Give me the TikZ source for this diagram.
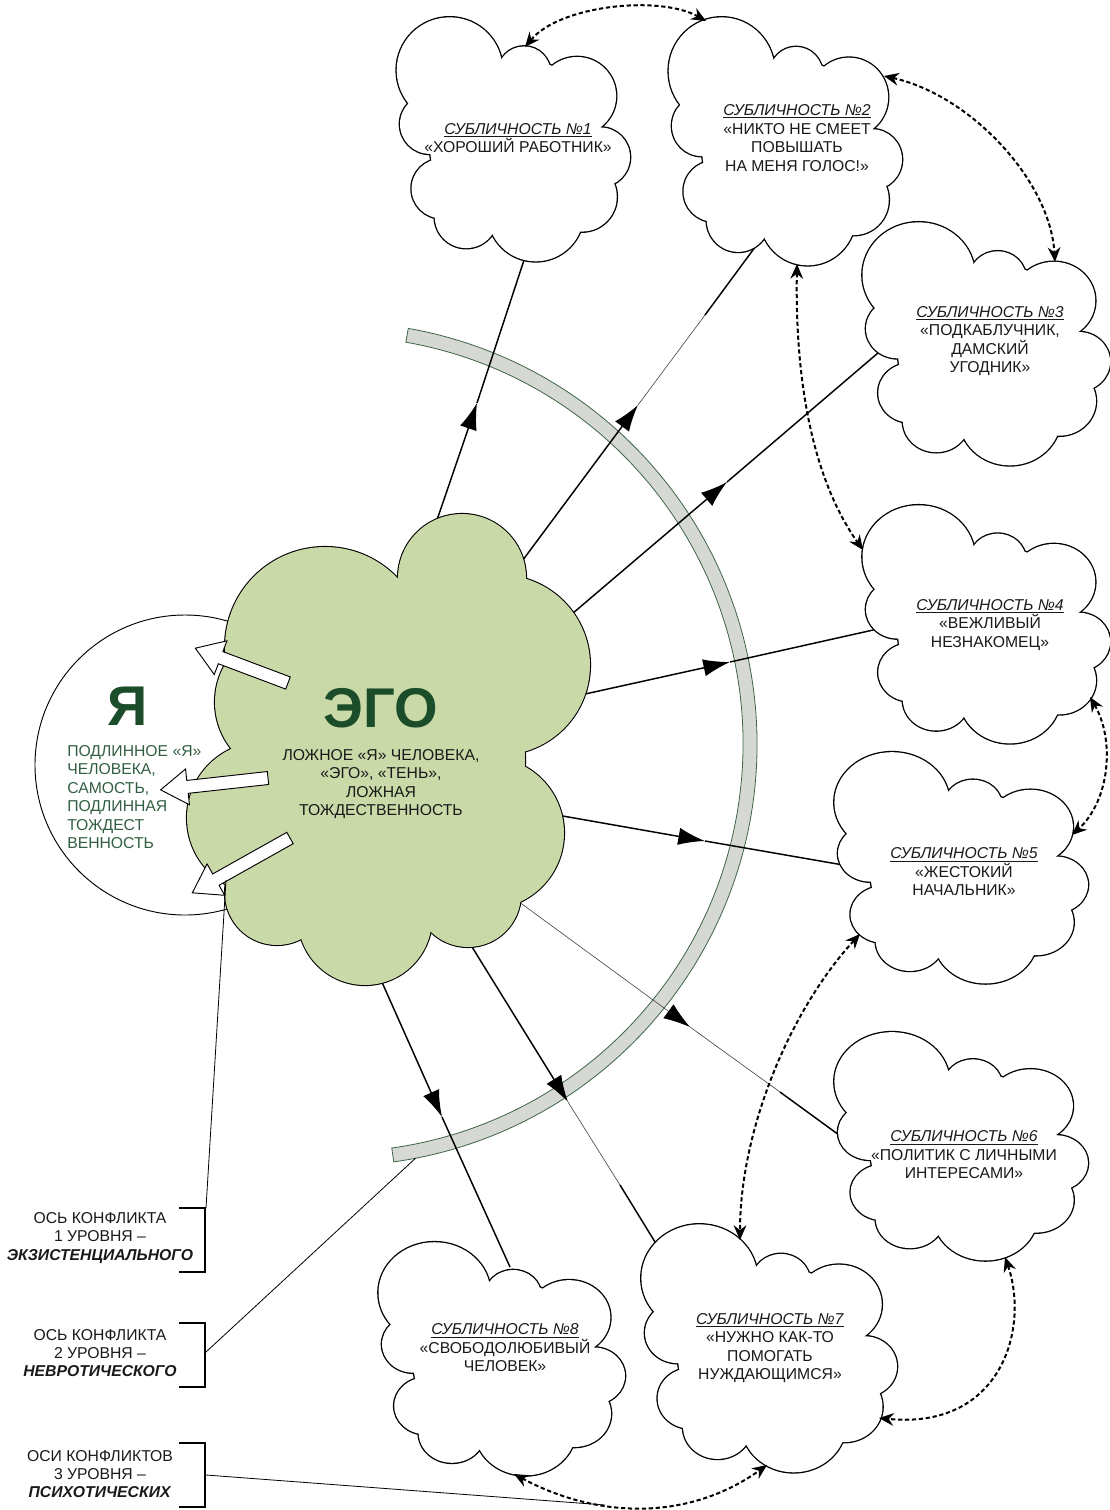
\documentclass[tikz,border=0pt]{standalone}
\usepackage{fontspec}
\setmainfont{Liberation Sans}
\usetikzlibrary{arrows.meta,calc}
\definecolor{egofill}{RGB}{202,217,168}
\definecolor{egodark}{RGB}{27,77,42}
\definecolor{yatext}{RGB}{50,95,65}
\definecolor{bandfill}{RGB}{214,217,211}
\definecolor{bandline}{RGB}{60,100,70}
\definecolor{txt}{RGB}{25,25,25}
\newcommand\cloudfig[5]{%
  \begin{scope}[shift={(#1,#2)},xscale=#3/695,yscale=#4/750]
    \foreach \ua/\ub/\ur in {150/167/160,375/175/80,535/245/118,605/430/90,550/550/105,410/600/145,200/610/95,125/525/90,90/330/90,350/390/260}
      \draw[line width=2pt] (\ua,\ub) circle[radius=\ur];
    \foreach \ua/\ub/\ur in {150/167/160,375/175/80,535/245/118,605/430/90,550/550/105,410/600/145,200/610/95,125/525/90,90/330/90,350/390/260}
      \fill[#5] (\ua,\ub) circle[radius=\ur];
  \end{scope}}
\newcommand\blockarr[4]{%
  \begin{scope}[shift={(#1,#2)},rotate=#3]
    \draw[barrow] (0,-6.5) -- (#4-27,-6.5) -- (#4-27,-18) -- (#4,0) -- (#4-27,18) -- (#4-27,6.5) -- (0,6.5) -- cycle;
  \end{scope}}
\tikzset{
  conn/.style={line width=1.1pt, black},
  thinconn/.style={line width=0.45pt, black!75},
  headarrow/.style={-{Latex[length=20pt,width=13pt,color=black]}},
  dasharrow/.style={line width=1.5pt, dash pattern=on 3.2pt off 2pt, {Stealth[length=11pt,width=9.5pt]}-{Stealth[length=11pt,width=9.5pt]}},
  ctext/.style={align=center, text=txt, font=\fontsize{11.8}{13.9}\selectfont, inner sep=0pt},
  labtext/.style={align=center, text=txt, font=\fontsize{11.8}{13.8}\selectfont, inner sep=0pt},
  bracket/.style={line width=0.9pt},
  leader/.style={line width=0.6pt},
  barrow/.style={draw=black, line width=0.7pt, fill=white, line join=miter},
}
\begin{document}
\begin{tikzpicture}[x=0.75pt,y=-0.75pt]
\useasboundingbox (0,0) rectangle (1110,1510);
% grey band (arc)
\coordinate (bc) at (335,744);
\filldraw[fill=bandfill, draw=bandline, line width=0.6pt]
  ($(bc)+(-80:408)$) arc[start angle=-80,end angle=82,radius=408]
  -- ($(bc)+(82:422)$) arc[start angle=82,end angle=-80,radius=422] -- cycle;
\coordinate (bandend) at ($(bc)+(79:422)$);

% connector coordinates
\coordinate (e1) at (425,555); \coordinate (t1) at (477,403); \coordinate (c1) at (527,251);
\coordinate (e2) at (514,572); \coordinate (t2) at (638,405); \coordinate (m2) at (705,315); \coordinate (c2) at (764,235);
\coordinate (e3) at (559,625); \coordinate (t3) at (727,482); \coordinate (c3) at (899,335);
\coordinate (e4) at (558,700); \coordinate (t4) at (730,662); \coordinate (c4) at (900,624);
\coordinate (e5) at (540,812); \coordinate (t5) at (705,841); \coordinate (c5) at (872,870);
\coordinate (e6) at (511,896); \coordinate (t6) at (690,1027); \coordinate (m6) at (780,1092); \coordinate (c6) at (872,1159);
\coordinate (e7) at (464,934); \coordinate (t7) at (568,1102); \coordinate (m7) at (620,1185); \coordinate (c7) at (671,1268);
\coordinate (e8) at (377,971); \coordinate (t8) at (442,1117); \coordinate (c8) at (510,1267);

\draw[conn,headarrow] (e1) -- (t1); \draw[conn] (t1) -- (c1);
\draw[conn,headarrow] (e2) -- (t2); \draw[thinconn] (t2) -- (m2); \draw[conn] (m2) -- (c2);
\draw[conn,headarrow] (e3) -- (t3); \draw[conn] (t3) -- (c3);
\draw[conn,headarrow] (e4) -- (t4); \draw[conn] (t4) -- (c4);
\draw[conn,headarrow] (e5) -- (t5); \draw[conn] (t5) -- (c5);
\draw[thinconn,headarrow] (e6) -- (t6); \draw[thinconn] (t6) -- (m6); \draw[conn] (m6) -- (c6);
\draw[conn,headarrow] (e7) -- (t7); \draw[thinconn] (t7) -- (m7); \draw[conn] (m7) -- (c7);
\draw[conn,headarrow] (e8) -- (t8); \draw[conn] (t8) -- (c8);

% sub-personality clouds
\cloudfig{400}{15}{230}{248}{white}
\cloudfig{672}{15}{230}{252}{white}
\cloudfig{866}{220}{244}{247}{white}
\cloudfig{866}{503}{244}{242}{white}
\cloudfig{838}{750}{250}{235}{white}
\cloudfig{838}{1030}{250}{232}{white}
\cloudfig{645}{1222}{252}{252}{white}
\cloudfig{382}{1240}{243}{237}{white}

% true self circle
\draw[line width=0.7pt, fill=white] (185,765) circle[radius=150];

% EGO cloud
\foreach \ua/\ub/\ur in {325/647/100,462/578/64,500/665/90,488/833/76,468/894/53,365/918/67,277/893/52,263/818/76,290/702/75,385/760/140}
  \draw[line width=1.6pt] (\ua,\ub) circle[radius=\ur];
\foreach \ua/\ub/\ur in {325/647/100,462/578/64,500/665/90,488/833/76,468/894/53,365/918/67,277/893/52,263/818/76,290/702/75,385/760/140}
  \fill[egofill] (\ua,\ub) circle[radius=\ur];

% texts
\node[text=egodark, font=\fontsize{42}{42}\selectfont\bfseries, inner sep=0pt] (egot) at (381,708) {ЭГО};
\node[ctext] (ego) at (381,784) {ЛОЖНОЕ «Я» ЧЕЛОВЕКА,\\«ЭГО», «ТЕНЬ»,\\ЛОЖНАЯ\\ТОЖДЕСТВЕННОСТЬ};
\node[text=egodark, font=\fontsize{42}{42}\selectfont\bfseries, inner sep=0pt] (yat) at (128,706) {Я};
\node[ctext, align=left, text=yatext, anchor=west] (ya) at (67,797) {ПОДЛИННОЕ «Я»\\ЧЕЛОВЕКА,\\САМОСТЬ,\\ПОДЛИННАЯ\\ТОЖДЕСТ\\ВЕННОСТЬ};

\node[ctext] (s1) at (518,138) {\underline{\textit{СУБЛИЧНОСТЬ №1}}\\«ХОРОШИЙ РАБОТНИК»};
\node[ctext] (s2) at (797,138) {\underline{\textit{СУБЛИЧНОСТЬ №2}}\\«НИКТО НЕ СМЕЕТ\\ПОВЫШАТЬ\\НА МЕНЯ ГОЛОС!»};
\node[ctext] (s3) at (990,341) {\underline{\textit{СУБЛИЧНОСТЬ №3}}\\«ПОДКАБЛУЧНИК,\\ДАМСКИЙ\\УГОДНИК»};
\node[ctext] (s4) at (990,625) {\underline{\textit{СУБЛИЧНОСТЬ №4}}\\«ВЕЖЛИВЫЙ\\НЕЗНАКОМЕЦ»};
\node[ctext] (s5) at (964,872) {\underline{\textit{СУБЛИЧНОСТЬ №5}}\\«ЖЕСТОКИЙ\\НАЧАЛЬНИК»};
\node[ctext] (s6) at (964,1155) {\underline{\textit{СУБЛИЧНОСТЬ №6}}\\«ПОЛИТИК С ЛИЧНЫМИ\\ИНТЕРЕСАМИ»};
\node[ctext] (s7) at (770,1348) {\underline{\textit{СУБЛИЧНОСТЬ №7}}\\«НУЖНО КАК-ТО\\ПОМОГАТЬ\\НУЖДАЮЩИМСЯ»};
\node[ctext] (s8) at (505,1348) {\underline{\textit{СУБЛИЧНОСТЬ №8}}\\«СВОБОДОЛЮБИВЫЙ\\ЧЕЛОВЕК»};

% block arrows from EGO to true self
\blockarr{288}{683}{159.4}{99}
\blockarr{268}{778}{186.3}{108}
\blockarr{290}{838}{209.3}{112}

% dashed conflict arrows between sub-personalities
\coordinate (d1a) at (525,47);   \coordinate (d1b) at (706,21);
\coordinate (d2a) at (884,76);   \coordinate (d2b) at (1055,262);
\coordinate (d3a) at (797,264);  \coordinate (d3b) at (863,550);
\coordinate (d4a) at (1090,697); \coordinate (d4b) at (1072,835);
\coordinate (d5a) at (860,934);  \coordinate (d5b) at (740,1240);
\coordinate (d6a) at (1005,1257);\coordinate (d6b) at (879,1418);
\coordinate (d7a) at (514,1474); \coordinate (d7b) at (767,1465);
\draw[dasharrow] (d1a) .. controls (560,5) and (660,-5) .. (d1b);
\draw[dasharrow] (d2a) .. controls (970,95) and (1050,180) .. (d2b);
\draw[dasharrow] (d3a) .. controls (795,380) and (812,478) .. (d3b);
\draw[dasharrow] (d4a) .. controls (1115,740) and (1110,800) .. (d4b);
\draw[dasharrow] (d5a) .. controls (790,1010) and (740,1130) .. (d5b);
\draw[dasharrow] (d6a) .. controls (1030,1330) and (1000,1430) .. (d6b);
\draw[dasharrow] (d7a) .. controls (600,1520) and (690,1520) .. (d7b);
\coordinate (ax3) at (605,1505);

% legend labels
\node[labtext] (l1) at (100,1238) {ОСЬ КОНФЛИКТА\\1 УРОВНЯ –\\\textbf{\textit{ЭКЗИСТЕНЦИАЛЬНОГО}}};
\node[labtext] (l2) at (100,1353) {ОСЬ КОНФЛИКТА\\2 УРОВНЯ –\\\textbf{\textit{НЕВРОТИЧЕСКОГО}}};
\node[labtext] (l3) at (100,1474) {ОСИ КОНФЛИКТОВ\\3 УРОВНЯ –\\\textbf{\textit{ПСИХОТИЧЕСКИХ}}};
\draw[bracket] (179,1208) -- (205,1208) -- (205,1272) -- (179,1272);
\draw[bracket] (179,1323) -- (205,1323) -- (205,1387) -- (179,1387);
\draw[bracket] (179,1443) -- (205,1443) -- (205,1507) -- (179,1507);
\coordinate (b1) at (206,1208); \coordinate (ax1) at (226,880);
\coordinate (b2) at (206,1352);
\coordinate (b3) at (206,1475);
\draw[leader] (b1) -- (ax1);
\draw[leader] (b2) -- (bandend);
\draw[leader] (b3) -- (ax3);
\end{tikzpicture}
\end{document}
